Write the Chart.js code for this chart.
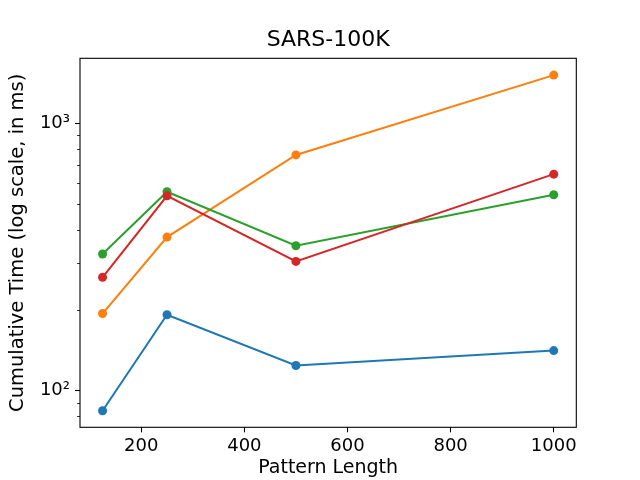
<!DOCTYPE html>
<html>
<head>
<meta charset="utf-8">
<script src="https://cdn.jsdelivr.net/npm/chart.js@4/dist/chart.umd.min.js"></script>
<style>
  html, body { margin: 0; padding: 0; background: #fff; }
</style>
</head>
<body>
<canvas id="chart" width="640" height="480"></canvas>
<script>
// DATA
const patternLengths = [125, 250, 500, 1000];

const blueTimes = [84, 192, 124, 141];
const orangeTimes = [194, 375, 761, 1514];
const greenTimes = [324, 554, 348, 540];
const redTimes = [265, 535, 304, 645];

const xTicks = [200, 400, 600, 800, 1000];
const yMajorTicks = [100, 1000];
const yMinorTicks = [80, 90, 200, 300, 400, 500, 600, 700, 800, 900];

const FONT = "'DejaVu Sans', sans-serif";

Chart.defaults.color = "#000";
Chart.defaults.font.family = FONT;

function series(values, color, order) {
    return {
        data: patternLengths.map((x, i) => ({ x: x, y: values[i] })),
        borderColor: color,
        backgroundColor: color,
        pointBackgroundColor: color,
        pointBorderColor: color,
        borderWidth: 2,
        pointRadius: 4.5,
        pointBorderWidth: 0,
        tension: 0,
        order: order
    };
}

// MINOR TICKS + FRAME
const framePlugin = {
    id: "framePlugin",
    afterDraw(chart) {
        const ctx = chart.ctx;
        const area = chart.chartArea;
        const y = chart.scales.y;

        ctx.save();
        ctx.strokeStyle = "#000";

        ctx.lineWidth = 0.8;
        yMinorTicks.forEach((v) => {
            const py = Math.round(y.getPixelForValue(v)) + 0.5;
            ctx.beginPath();
            ctx.moveTo(area.left, py);
            ctx.lineTo(area.left - 3, py);
            ctx.stroke();
        });

        ctx.lineWidth = 1.1;
        ctx.strokeRect(area.left, area.top, area.right - area.left, area.bottom - area.top);
        ctx.restore();
    }
};

new Chart(document.getElementById("chart"), {
    type: "line",
    data: {
        datasets: [
            series(blueTimes, "#1f77b4", 3),
            series(orangeTimes, "#ff7f0e", 2),
            series(greenTimes, "#2ca02c", 1),
            series(redTimes, "#d62728", 0)
        ]
    },
    options: {
        responsive: false,
        animation: false,
        devicePixelRatio: 1,
        layout: {
            padding: { left: 0, right: 63.7, top: 0, bottom: 0 }
        },
        plugins: {
            legend: { display: false },
            tooltip: { enabled: false },
            title: {
                display: true,
                fullSize: false,
                text: "SARS-100K",
                color: "#000",
                font: { family: FONT, size: 22, weight: "normal" },
                padding: { top: 27, bottom: 4.9 }
            }
        },
        scales: {
            x: {
                type: "linear",
                min: 81.25,
                max: 1043.75,
                afterBuildTicks: (scale) => {
                    scale.ticks = xTicks.map((v) => ({ value: v }));
                },
                afterFit: (scale) => {
                    scale.height = 52.7;
                    scale.paddingLeft = 0;
                    scale.paddingRight = 0;
                },
                ticks: {
                    autoSkip: false,
                    maxRotation: 0,
                    padding: 3,
                    font: { family: FONT, size: 18 },
                    callback: (v) => String(v)
                },
                grid: {
                    display: true,
                    drawOnChartArea: false,
                    drawTicks: true,
                    tickLength: 5,
                    tickWidth: 1.1,
                    tickColor: "#000"
                },
                border: { display: false },
                title: {
                    display: true,
                    text: "Pattern Length",
                    color: "#000",
                    font: { family: FONT, size: 19 },
                    padding: { top: 0, bottom: 0.5 }
                }
            },
            y: {
                type: "logarithmic",
                min: 72.8,
                max: 1750,
                afterBuildTicks: (scale) => {
                    scale.ticks = yMinorTicks.concat(yMajorTicks)
                        .sort((a, b) => a - b)
                        .map((v) => ({ value: v, major: yMajorTicks.includes(v) }));
                },
                afterFit: (scale) => {
                    scale.width = 80;
                    scale.paddingTop = 0;
                    scale.paddingBottom = 0;
                },
                ticks: {
                    autoSkip: false,
                    padding: 5,
                    font: { family: FONT, size: 18 },
                    callback: (v) => (v === 100 ? "10²" : v === 1000 ? "10³" : "")
                },
                grid: {
                    display: true,
                    drawOnChartArea: false,
                    drawTicks: true,
                    tickLength: 5,
                    tickWidth: 1.1,
                    tickColor: (c) => (c.tick && yMajorTicks.includes(c.tick.value) ? "#000" : "rgba(0,0,0,0)")
                },
                border: { display: false },
                title: {
                    display: true,
                    text: "Cumulative Time (log scale, in ms)",
                    color: "#000",
                    font: { family: FONT, size: 19.5 },
                    padding: { top: 6.5, bottom: 0 }
                }
            }
        }
    },
    plugins: [framePlugin]
});
</script>
</body>
</html>
